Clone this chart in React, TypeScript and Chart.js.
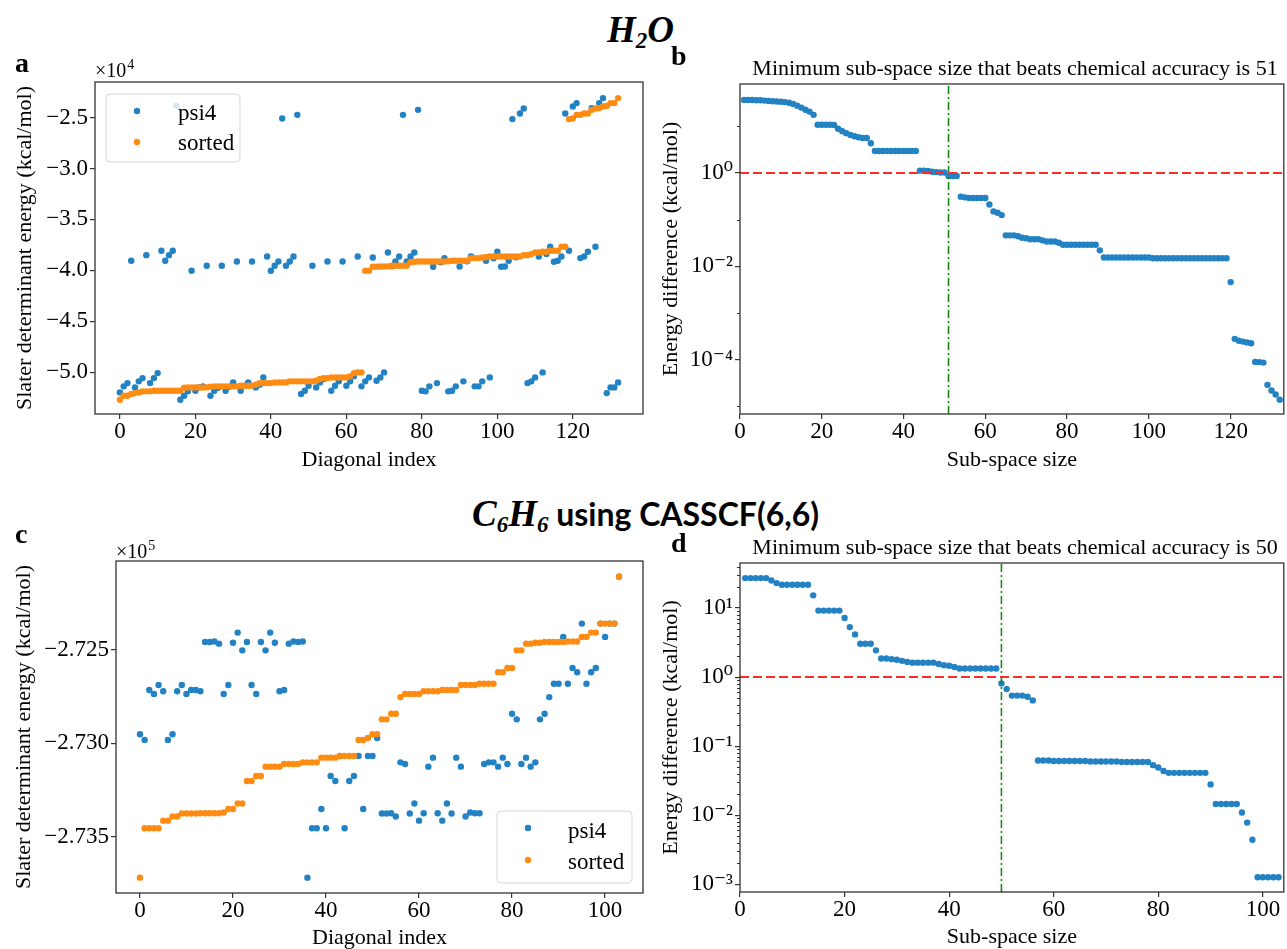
import React, { useEffect, useRef } from "react";
import { Chart, registerables } from "chart.js";

Chart.register(...registerables);

const SERIF = "'Liberation Serif', 'DejaVu Serif', 'Times New Roman', serif";
const BLUE = "#2282c3";
const ORANGE = "#ff8c12";
const RED = "#ff2a2a";
const GREEN = "#128a12";
const FRAME = "#333333";
const R = 3.2;

// ---------- Panel a : H2O diagonal energies (kcal/mol) ----------
const psi4A = [
  -51960, -51370, -51050, -39050, -51470, -50880, -50560, -38500, -51050, -50560,
  -50070, -38070, -39050, -38500, -38070, -23860, -52680, -52290, -51860, -40030,
  -51800, -51470, -51370, -39540, -52290, -51800, -51500, -39540, -51800, -51400,
  -50980, -39120, -51800, -51300, -50980, -39120, -51470, -51200, -50490, -38630,
  -40030, -39540, -39120, -25100, -39540, -39120, -38630, -24740, -52120, -51800,
  -51310, -39540, -51470, -50980, -50650, -39120, -51800, -51310, -50880, -39120,
  -51310, -50880, -50390, -38630, -51370, -50880, -50490, -38730, -50820, -50490,
  -50000, -38240, -39600, -39120, -38630, -24740, -39120, -38630, -38240, -24250,
  -51800, -51860, -51370, -39640, -51050, -39200, -38790, -51860, -51800, -51370,
  -39610, -50880, -39100, -38630, -51370, -51370, -50880, -39050, -50490, -38800,
  -38170, -39640, -39610, -39050, -25160, -38700, -24610, -24120, -51050, -50880,
  -50490, -38630, -50000, -38400, -37680, -39150, -39050, -38630, -24610, -38070,
  -23920, -23590, -38790, -38630, -38170, -24080, -37680, -23590, -23100, -52030,
  -51470, -51470, -50980,
];
const sortedA = [
  -52680, -52290, -52290, -52120, -52030, -51960, -51860, -51860, -51860, -51800,
  -51800, -51800, -51800, -51800, -51800, -51800, -51800, -51500, -51470, -51470,
  -51470, -51470, -51470, -51470, -51400, -51370, -51370, -51370, -51370, -51370,
  -51370, -51370, -51310, -51310, -51310, -51300, -51200, -51050, -51050, -51050,
  -51050, -50980, -50980, -50980, -50980, -50880, -50880, -50880, -50880, -50880,
  -50880, -50880, -50820, -50650, -50560, -50560, -50490, -50490, -50490, -50490,
  -50490, -50390, -50070, -50000, -50000,
  -40030, -40030, -39640, -39640, -39610, -39610, -39600, -39540, -39540, -39540,
  -39540, -39540, -39200, -39150, -39120, -39120, -39120, -39120, -39120, -39120,
  -39120, -39120, -39100, -39050, -39050, -39050, -39050, -39050, -38800, -38790,
  -38790, -38730, -38700, -38630, -38630, -38630, -38630, -38630, -38630, -38630,
  -38630, -38630, -38500, -38500, -38400, -38240, -38240, -38170, -38170, -38070,
  -38070, -38070, -37680, -37680,
  -25160, -25100, -24740, -24740, -24610, -24610, -24250, -24120, -24080, -23920,
  -23860, -23590, -23590, -23100,
];
const ticksAX = [0, 20, 40, 60, 80, 100, 120];
const ticksAY = [-25000, -30000, -35000, -40000, -45000, -50000];

// ---------- Panel b : H2O energy difference vs sub-space size ----------
const diffB = [
  36.5, 36.5, 36.3, 36.0, 35.8, 35.3, 34.8, 34.3, 33.8, 33.3,
  32.8, 31.8, 30.0, 27.5, 25.0, 22.5, 20.5, 17.5, 10.7, 10.7,
  10.7, 10.7, 10.6, 8.8, 7.8, 7.1, 6.5, 6.1, 5.8, 5.6,
  5.6, 4.3, 2.95, 2.95, 2.95, 2.95, 2.95, 2.95, 2.95, 2.95,
  2.95, 2.95, 2.95, 1.12, 1.12, 1.10, 1.06, 1.04, 1.02, 1.02,
  0.86, 0.86, 0.86, 0.31, 0.30, 0.29, 0.29, 0.29, 0.29, 0.29,
  0.21, 0.15, 0.14, 0.125, 0.046, 0.046, 0.046, 0.044, 0.041, 0.040,
  0.038, 0.038, 0.038, 0.036, 0.034, 0.034, 0.034, 0.032, 0.029, 0.029,
  0.029, 0.029, 0.029, 0.029, 0.029, 0.029, 0.029, 0.022, 0.0154, 0.0154,
  0.0154, 0.0154, 0.0154, 0.0154, 0.0154, 0.0154, 0.0154, 0.0154, 0.0154, 0.0154,
  0.0149, 0.0149, 0.0149, 0.0149, 0.0149, 0.0149, 0.0149, 0.0149, 0.0149, 0.0149,
  0.0149, 0.0149, 0.0149, 0.0149, 0.0149, 0.0149, 0.0149, 0.0149, 0.0149, 0.0046,
  2.8e-4, 2.55e-4, 2.45e-4, 2.35e-4, 2.25e-4, 9.0e-5, 8.9e-5, 8.7e-5, 2.9e-5, 2.2e-5,
  1.8e-5, 1.4e-5,
];
const minSizeB = 51;
const ticksBX = [0, 20, 40, 60, 80, 100, 120];
const ticksBY = [1e-4, 1e-2, 1];
const minorBY = [10, 0.1, 1e-3, 1e-5];

// ---------- Panel c : C6H6 diagonal energies (kcal/mol) ----------
const psi4C = [
  -272951, -272981, -272714, -272735, -272687, -272721, -272981, -272951, -272721, -272687,
  -272735, -272714, -272714, -272721, -272457, -272457, -272455, -272466, -272735, -272687,
  -272461, -272407, -272502, -272457, -272687, -272735, -272457, -272502, -272407, -272461,
  -272721, -272714, -272466, -272455, -272457, -272455, -273718, -273454, -273454, -273351,
  -273454, -273174, -273201, -273067, -273454, -273201, -273174, -273067, -273351, -273067,
  -273067, -272971, -273375, -273375, -273373, -273391, -273101, -273110, -273375, -273321,
  -273413, -273373, -273124, -273076, -273373, -273413, -273321, -273375, -273076, -273124,
  -273391, -273369, -273373, -273373, -273110, -273101, -273101, -273124, -273076, -273110,
  -272841, -272871, -273110, -273076, -273124, -273101, -272871, -272841, -272752, -272681,
  -272681, -272430, -272681, -272596, -272619, -272359, -272681, -272619, -272596, -272359,
  -272430, -272359, -272359, -272108,
];
const sortedC = [
  -273718, -273454, -273454, -273454, -273454, -273413, -273413, -273391, -273391, -273375,
  -273375, -273375, -273375, -273373, -273373, -273373, -273373, -273373, -273369, -273351,
  -273351, -273321, -273321, -273201, -273201, -273174, -273174, -273124, -273124, -273124,
  -273124, -273110, -273110, -273110, -273110, -273101, -273101, -273101, -273101, -273076,
  -273076, -273076, -273076, -273067, -273067, -273067, -273067, -272981, -272981, -272971,
  -272951, -272951, -272871, -272871, -272841, -272841, -272752, -272735, -272735, -272735,
  -272735, -272721, -272721, -272721, -272721, -272714, -272714, -272714, -272714, -272687,
  -272687, -272687, -272687, -272681, -272681, -272681, -272681, -272619, -272619, -272596,
  -272596, -272502, -272502, -272466, -272466, -272461, -272461, -272457, -272457, -272457,
  -272457, -272457, -272455, -272455, -272455, -272430, -272430, -272407, -272407, -272359,
  -272359, -272359, -272359, -272108,
];
const ticksCX = [0, 20, 40, 60, 80, 100];
const ticksCY = [-272500, -273000, -273500];

// ---------- Panel d : C6H6 energy difference vs sub-space size ----------
const diffD = [
  27.2, 27.2, 27.2, 27.2, 27.2, 25.1, 23.0, 21.8, 21.8, 21.8,
  21.8, 21.8, 21.8, 15.3, 9.2, 9.2, 9.2, 9.2, 9.2, 7.2,
  5.3, 4.16, 3.05, 3.05, 3.05, 2.44, 1.86, 1.86, 1.82, 1.78,
  1.72, 1.66, 1.62, 1.62, 1.62, 1.62, 1.62, 1.55, 1.49, 1.46,
  1.40, 1.33, 1.33, 1.33, 1.33, 1.33, 1.33, 1.33, 1.33, 0.81,
  0.67, 0.54, 0.54, 0.54, 0.52, 0.46, 0.062, 0.062, 0.062, 0.061,
  0.061, 0.061, 0.061, 0.061, 0.061, 0.061, 0.060, 0.060, 0.060, 0.060,
  0.060, 0.060, 0.059, 0.059, 0.059, 0.059, 0.059, 0.059, 0.053, 0.049,
  0.0436, 0.041, 0.041, 0.041, 0.041, 0.041, 0.041, 0.041, 0.041, 0.0279,
  0.0145, 0.0145, 0.0145, 0.0145, 0.0145, 0.0109, 0.0078, 0.0044, 0.00126, 0.00126,
  0.00126, 0.00126, 0.00126,
];
const minSizeD = 50;
const ticksDX = [0, 20, 40, 60, 80, 100];
const ticksDY = [1e-3, 1e-2, 1e-1, 1, 10];
const minorDY = [
  2e-3, 3e-3, 4e-3, 5e-3, 6e-3, 7e-3, 8e-3, 9e-3,
  2e-2, 3e-2, 4e-2, 5e-2, 6e-2, 7e-2, 8e-2, 9e-2,
  0.2, 0.3, 0.4, 0.5, 0.6, 0.7, 0.8, 0.9,
  2, 3, 4, 5, 6, 7, 8, 9, 20, 30, 40,
];
const chemAccuracy = 1.0;

// ---------- helpers ----------
const SUP: Record<string, string> = {
  "-": "⁻", "0": "⁰", "1": "¹", "2": "²", "3": "³", "4": "⁴",
  "5": "⁵", "6": "⁶", "7": "⁷", "8": "⁸", "9": "⁹",
};
const logLabel = (v: number) =>
  "10" + String(Math.round(Math.log10(v))).split("").map((c) => SUP[c]).join("");
const minus = (s: string) => s.replace("-", "−");

const tickFont = { family: SERIF, size: 23, lineHeight: 1 };
const titleFont = { family: SERIF, size: 22, lineHeight: 1 };
const gridCfg = {
  drawOnChartArea: false,
  drawTicks: true,
  tickLength: 5,
  color: FRAME,
  lineWidth: 1.2,
};

function xAxis(min: number, max: number, ticks: number[], height: number, title: string, titlePad: number) {
  return {
    type: "linear",
    min,
    max,
    afterBuildTicks: (s: any) => {
      s.ticks = ticks.map((v) => ({ value: v }));
    },
    afterFit: (s: any) => {
      s.height = height;
    },
    ticks: {
      font: tickFont,
      color: "#000",
      padding: 1,
      maxRotation: 0,
      autoSkip: false,
      callback: (v: any) => String(v),
    },
    grid: gridCfg,
    border: { display: false },
    title: { display: true, text: title, font: titleFont, color: "#000", padding: { top: 0, bottom: titlePad } },
  };
}

function yAxis(
  type: string,
  min: number,
  max: number,
  ticks: number[],
  width: number,
  title: string,
  titlePad: number,
  fmt: (v: number) => string
) {
  return {
    type,
    min,
    max,
    afterBuildTicks: (s: any) => {
      s.ticks = ticks.map((v) => ({ value: v }));
    },
    afterFit: (s: any) => {
      s.width = width;
    },
    ticks: {
      font: tickFont,
      color: "#000",
      padding: 2,
      autoSkip: false,
      callback: (v: any) => fmt(Number(v)),
    },
    grid: gridCfg,
    border: { display: false },
    title: { display: true, text: title, font: titleFont, color: "#000", padding: { top: titlePad, bottom: 0 } },
  };
}

type TextSpec = { text: string; x: number; y: number; font: string; align?: CanvasTextAlign };
type LegendItem = { color: string; label: string; dx: number; dy: number; tx: number; ty: number };
type ExtraSpec = {
  texts?: TextSpec[];
  offset?: { base: string; exp: string; x: number; y: number };
  legend?: { box: [number, number, number, number]; items: LegendItem[] };
  minorY?: number[];
};

function extras(spec: ExtraSpec) {
  return {
    id: "extras",
    afterDatasetsDraw(chart: any) {
      const ctx: CanvasRenderingContext2D = chart.ctx;
      const a = chart.chartArea;
      ctx.save();
      if (spec.minorY) {
        const ys = chart.scales.y;
        ctx.strokeStyle = FRAME;
        ctx.lineWidth = 1;
        for (const v of spec.minorY) {
          const py = ys.getPixelForValue(v);
          if (py < a.top || py > a.bottom) continue;
          ctx.beginPath();
          ctx.moveTo(a.left - 3, Math.round(py) + 0.5);
          ctx.lineTo(a.left, Math.round(py) + 0.5);
          ctx.stroke();
        }
      }
      ctx.strokeStyle = FRAME;
      ctx.lineWidth = 1.3;
      ctx.strokeRect(a.left, a.top, a.right - a.left, a.bottom - a.top);
      if (spec.legend) {
        const [x0, y0, x1, y1] = spec.legend.box;
        const r = 4;
        ctx.beginPath();
        ctx.moveTo(x0 + r, y0);
        ctx.lineTo(x1 - r, y0);
        ctx.quadraticCurveTo(x1, y0, x1, y0 + r);
        ctx.lineTo(x1, y1 - r);
        ctx.quadraticCurveTo(x1, y1, x1 - r, y1);
        ctx.lineTo(x0 + r, y1);
        ctx.quadraticCurveTo(x0, y1, x0, y1 - r);
        ctx.lineTo(x0, y0 + r);
        ctx.quadraticCurveTo(x0, y0, x0 + r, y0);
        ctx.closePath();
        ctx.fillStyle = "rgba(255,255,255,0.8)";
        ctx.fill();
        ctx.strokeStyle = "#d6d6d6";
        ctx.lineWidth = 1;
        ctx.stroke();
        ctx.font = `23px ${SERIF}`;
        ctx.textAlign = "left";
        ctx.textBaseline = "middle";
        for (const it of spec.legend.items) {
          ctx.fillStyle = it.color;
          ctx.beginPath();
          ctx.arc(it.dx, it.dy, R, 0, Math.PI * 2);
          ctx.fill();
          ctx.fillStyle = "#000";
          ctx.fillText(it.label, it.tx, it.ty);
        }
      }
      ctx.fillStyle = "#000";
      ctx.textBaseline = "alphabetic";
      for (const t of spec.texts || []) {
        ctx.font = t.font;
        ctx.textAlign = t.align || "left";
        ctx.fillText(t.text, t.x, t.y);
      }
      if (spec.offset) {
        const o = spec.offset;
        ctx.textAlign = "left";
        ctx.font = `20px ${SERIF}`;
        ctx.fillText(o.base, o.x, o.y);
        const w = ctx.measureText(o.base).width;
        ctx.font = `14px ${SERIF}`;
        ctx.fillText(o.exp, o.x + w + 1, o.y - 8);
      }
      ctx.restore();
    },
  };
}

const common = {
  responsive: false,
  animation: false,
  events: [],
  plugins: { legend: { display: false }, tooltip: { enabled: false }, title: { display: false } },
};

const pts = (arr: number[], start: number) => arr.map((y, i) => ({ x: i + start, y }));

function scatterSet(label: string, arr: number[], start: number, color: string, order: number) {
  return {
    label,
    data: pts(arr, start),
    backgroundColor: color,
    pointBackgroundColor: color,
    pointBorderWidth: 0,
    borderWidth: 0,
    pointRadius: R,
    pointHoverRadius: R,
    showLine: false,
    order,
  };
}

function lineSet(data: { x: number; y: number }[], color: string, dash: number[], width: number) {
  return {
    data,
    showLine: true,
    borderColor: color,
    borderWidth: width,
    borderDash: dash,
    pointRadius: 0,
    order: 0,
  };
}

const A_X = [-6.6, 138.6];
const A_Y = [-54080, -21520];
const C_X = [-5.15, 108.15];
const C_Y = [-273800, -272024];
const B_X = [0, 133];
const B_Y = [6.9e-6, 80];
const D_X = [0, 104];
const D_Y = [7.7e-4, 45];

const configA = () => ({
  type: "scatter",
  data: {
    datasets: [
      scatterSet("sorted", sortedA, 0, ORANGE, 1),
      scatterSet("psi4", psi4A, 0, BLUE, 2),
    ],
  },
  options: {
    ...common,
    layout: { padding: { left: 0, top: 82, right: 17, bottom: 0 } },
    scales: {
      x: xAxis(A_X[0], A_X[1], ticksAX, 61, "Diagonal index", 4),
      y: yAxis("linear", A_Y[0], A_Y[1], ticksAY, 95, "Slater determinant energy (kcal/mol)", 14, (v) =>
        minus((v / 1e4).toFixed(1))
      ),
    },
  },
  plugins: [
    extras({
      texts: [{ text: "a", x: 15, y: 72, font: `bold 28px ${SERIF}` }],
      offset: { base: "×10", exp: "4", x: 95, y: 77 },
      legend: {
        box: [106, 94, 240, 162],
        items: [
          { color: BLUE, label: "psi4", dx: 137, dy: 111, tx: 178, ty: 114 },
          { color: ORANGE, label: "sorted", dx: 137, dy: 142, tx: 178, ty: 144 },
        ],
      },
    }),
  ],
});

const configB = () => ({
  type: "scatter",
  data: {
    datasets: [
      lineSet([{ x: B_X[0], y: chemAccuracy }, { x: B_X[1], y: chemAccuracy }], RED, [9, 4], 2),
      lineSet([{ x: minSizeB, y: B_Y[0] }, { x: minSizeB, y: B_Y[1] }], GREEN, [8, 3, 2, 3], 1.6),
      scatterSet("diff", diffB, 1, BLUE, 2),
    ],
  },
  options: {
    ...common,
    layout: { padding: { left: 0, top: 84, right: 0, bottom: 0 } },
    scales: {
      x: xAxis(B_X[0], B_X[1], ticksBX, 61, "Sub-space size", 4),
      y: yAxis("logarithmic", B_Y[0], B_Y[1], ticksBY, 80, "Energy difference (kcal/mol)", 0, logLabel),
    },
  },
  plugins: [
    extras({
      minorY: minorBY,
      texts: [
        { text: "b", x: 11, y: 65, font: `bold 28px ${SERIF}` },
        {
          text: `Minimum sub-space size that beats chemical accuracy is ${minSizeB}`,
          x: 355,
          y: 75,
          font: `22px ${SERIF}`,
          align: "center",
        },
      ],
    }),
  ],
});

const configC = () => ({
  type: "scatter",
  data: {
    datasets: [
      scatterSet("sorted", sortedC, 0, ORANGE, 1),
      scatterSet("psi4", psi4C, 0, BLUE, 2),
    ],
  },
  options: {
    ...common,
    layout: { padding: { left: 0, top: 86, right: 17, bottom: 0 } },
    scales: {
      x: xAxis(C_X[0], C_X[1], ticksCX, 56, "Diagonal index", 0),
      y: yAxis("linear", C_Y[0], C_Y[1], ticksCY, 116, "Slater determinant energy (kcal/mol)", 13, (v) =>
        minus((v / 1e5).toFixed(3))
      ),
    },
  },
  plugins: [
    extras({
      texts: [{ text: "c", x: 15, y: 68, font: `bold 28px ${SERIF}` }],
      offset: { base: "×10", exp: "5", x: 116, y: 83 },
      legend: {
        box: [497, 336, 632, 408],
        items: [
          { color: BLUE, label: "psi4", dx: 528, dy: 353, tx: 568, ty: 357 },
          { color: ORANGE, label: "sorted", dx: 528, dy: 385, tx: 568, ty: 388 },
        ],
      },
    }),
  ],
});

const configD = () => ({
  type: "scatter",
  data: {
    datasets: [
      lineSet([{ x: D_X[0], y: chemAccuracy }, { x: D_X[1], y: chemAccuracy }], RED, [9, 4], 2),
      lineSet([{ x: minSizeD, y: D_Y[0] }, { x: minSizeD, y: D_Y[1] }], GREEN, [8, 3, 2, 3], 1.6),
      scatterSet("diff", diffD, 1, BLUE, 2),
    ],
  },
  options: {
    ...common,
    layout: { padding: { left: 0, top: 88, right: 0, bottom: 0 } },
    scales: {
      x: xAxis(D_X[0], D_X[1], ticksDX, 57, "Sub-space size", 1),
      y: yAxis("logarithmic", D_Y[0], D_Y[1], ticksDY, 80, "Energy difference (kcal/mol)", 0, logLabel),
    },
  },
  plugins: [
    extras({
      minorY: minorDY,
      texts: [
        { text: "d", x: 11, y: 77, font: `bold 28px ${SERIF}` },
        {
          text: `Minimum sub-space size that beats chemical accuracy is ${minSizeD}`,
          x: 355,
          y: 79,
          font: `22px ${SERIF}`,
          align: "center",
        },
      ],
    }),
  ],
});

function ChartBox({ left, top, width, height, build }: { left: number; top: number; width: number; height: number; build: () => any }) {
  const ref = useRef<HTMLCanvasElement>(null);
  useEffect(() => {
    const chart = new Chart(ref.current as HTMLCanvasElement, build());
    return () => chart.destroy();
  }, []);
  return (
    <canvas
      ref={ref}
      width={width}
      height={height}
      style={{ position: "absolute", left, top, width, height, display: "block" }}
    />
  );
}

const subStyle = { fontSize: "0.62em", verticalAlign: "-0.28em" };

export default function App() {
  return (
    <div
      style={{
        position: "absolute",
        left: 0,
        top: 0,
        width: 1287,
        height: 949,
        background: "#fff",
        overflow: "hidden",
      }}
    >
      <div
        style={{
          position: "absolute",
          left: 607,
          top: 9,
          whiteSpace: "nowrap",
          font: `italic bold 37px ${SERIF}`,
          lineHeight: "42px",
          color: "#000",
        }}
      >
        H<sub style={subStyle}>2</sub>O
      </div>
      <div
        style={{
          position: "absolute",
          left: 472,
          top: 492,
          whiteSpace: "nowrap",
          lineHeight: "42px",
          color: "#000",
        }}
      >
        <span style={{ font: `italic bold 37px ${SERIF}` }}>
          C<sub style={subStyle}>6</sub>H<sub style={subStyle}>6</sub>
        </span>
        <span style={{ font: "bold 32px Lato, 'Open Sans', sans-serif" }}> using CASSCF(6,6)</span>
      </div>
      <ChartBox left={0} top={0} width={660} height={475} build={configA} />
      <ChartBox left={660} top={0} width={627} height={475} build={configB} />
      <ChartBox left={0} top={475} width={660} height={474} build={configC} />
      <ChartBox left={660} top={475} width={627} height={474} build={configD} />
    </div>
  );
}
